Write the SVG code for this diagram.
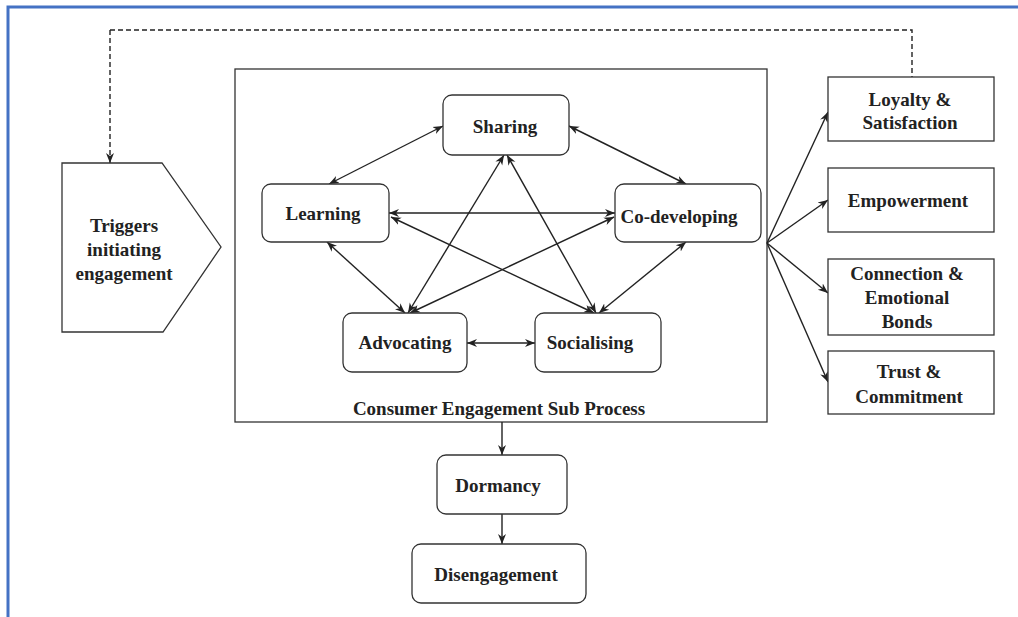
<svg xmlns="http://www.w3.org/2000/svg" width="1018" height="617" viewBox="0 0 1018 617">
<defs>
<marker id="ah" viewBox="0 0 10 10" refX="10" refY="5" markerWidth="10" markerHeight="10" markerUnits="userSpaceOnUse" orient="auto-start-reverse">
<path d="M0,1 L10,5 L0,9 L3,5 Z" fill="#222"/>
</marker>
<style>
.n{fill:#fff;stroke:#333;stroke-width:1.3}
.t{font-family:"Liberation Serif","Times New Roman",serif;font-weight:bold;font-size:19px;fill:#222;text-anchor:middle}
.c{stroke:#222;stroke-width:1.4;fill:none}
.bi{marker-start:url(#ah);marker-end:url(#ah)}
.one{marker-end:url(#ah)}
</style>
</defs>
<rect width="1018" height="617" fill="#fff"/>
<path d="M8,617 V7 H1018" fill="none" stroke="#4472C4" stroke-width="3"/>

<g id="process-box">
<rect x="235" y="69" width="532" height="353" class="n"/>
<text x="499" y="415" class="t">Consumer Engagement Sub Process</text>
</g>

<g id="connectors">
<path class="c" d="M110,30 H912 V77" stroke-dasharray="5,3"/>
<path class="c one" d="M110,30 V163" stroke-dasharray="5,3"/>
<line class="c bi" x1="443" y1="126" x2="329" y2="184"/>
<line class="c bi" x1="569" y1="126" x2="686" y2="184"/>
<line class="c bi" x1="389" y1="213" x2="615" y2="213"/>
<line class="c bi" x1="327" y1="242" x2="405" y2="313"/>
<line class="c bi" x1="686" y1="242" x2="599" y2="313"/>
<line class="c bi" x1="467" y1="343" x2="535" y2="343"/>
<line class="c bi" x1="504" y1="155" x2="408" y2="313"/>
<line class="c bi" x1="507" y1="155" x2="596" y2="313"/>
<line class="c bi" x1="391" y1="217" x2="594" y2="313"/>
<line class="c bi" x1="614" y1="217" x2="410" y2="313"/>
<line class="c one" x1="767" y1="243" x2="828" y2="112"/>
<line class="c one" x1="767" y1="243" x2="828" y2="200"/>
<line class="c one" x1="767" y1="243" x2="828" y2="293"/>
<line class="c one" x1="767" y1="243" x2="828" y2="382"/>
<line class="c one" x1="502" y1="422" x2="502" y2="455"/>
<line class="c one" x1="502" y1="514" x2="502" y2="544"/>
</g>

<g id="triggers">
<path d="M62,163 H162 L221,247 L163,332 H62 Z" class="n"/>
<text x="124" y="232" class="t">Triggers</text>
<text x="124" y="256" class="t">initiating</text>
<text x="124" y="280" class="t">engagement</text>
</g>

<g id="sharing">
<rect x="443" y="95" width="126" height="60" rx="9" class="n"/>
<text x="505" y="133" class="t">Sharing</text>
</g>
<g id="learning">
<rect x="262" y="184" width="127" height="58" rx="9" class="n"/>
<text x="323" y="220" class="t">Learning</text>
</g>
<g id="co-developing">
<rect x="615" y="184" width="146" height="58" rx="9" class="n"/>
<text x="679" y="223" class="t">Co-developing</text>
</g>
<g id="advocating">
<rect x="343" y="313" width="124" height="59" rx="9" class="n"/>
<text x="405" y="349" class="t">Advocating</text>
</g>
<g id="socialising">
<rect x="535" y="313" width="126" height="59" rx="9" class="n"/>
<text x="590" y="349" class="t">Socialising</text>
</g>

<g id="dormancy">
<rect x="437" y="455" width="130" height="59" rx="9" class="n"/>
<text x="498" y="492" class="t">Dormancy</text>
</g>
<g id="disengagement">
<rect x="412" y="544" width="174" height="59" rx="9" class="n"/>
<text x="496" y="581" class="t">Disengagement</text>
</g>

<g id="loyalty">
<rect x="828" y="77" width="166" height="64" class="n"/>
<text x="910" y="106" class="t">Loyalty &amp;</text>
<text x="910" y="129" class="t">Satisfaction</text>
</g>
<g id="empowerment">
<rect x="828" y="168" width="166" height="64" class="n"/>
<text x="908" y="207" class="t">Empowerment</text>
</g>
<g id="connection">
<rect x="828" y="259" width="166" height="76" class="n"/>
<text x="907" y="280" class="t">Connection &amp;</text>
<text x="907" y="304" class="t">Emotional</text>
<text x="907" y="328" class="t">Bonds</text>
</g>
<g id="trust">
<rect x="828" y="351" width="166" height="63" class="n"/>
<text x="909" y="378" class="t">Trust &amp;</text>
<text x="909" y="403" class="t">Commitment</text>
</g>
</svg>
